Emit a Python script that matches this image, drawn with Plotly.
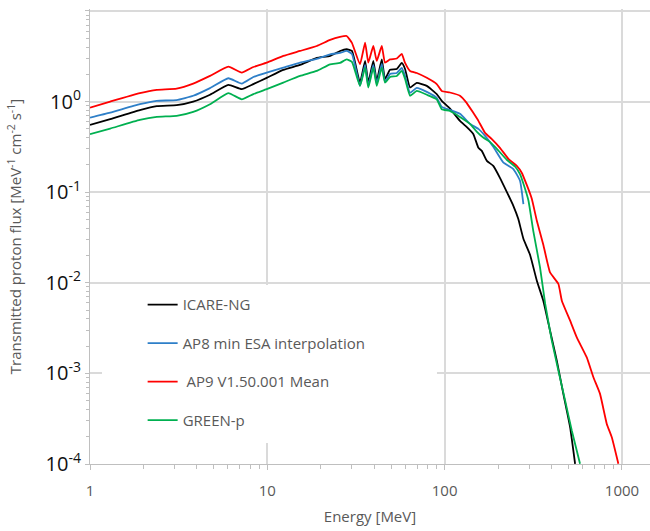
import plotly.graph_objects as go

# Shared energy grid (MeV) for the 1-107 MeV part of all curves
energy_common = [1.00, 1.30, 1.91, 2.38, 3.08, 3.82, 4.75, 6.03, 7.17, 8.34, 9.92,
                 12.3, 15.3, 19.0, 22.6, 25.7, 28.0, 30.0, 33.3, 35.6, 37.1, 39.6,
                 41.4, 44.2, 46.1, 49.2, 53.7, 57.3, 59.8, 63.8, 69.6, 79.3, 90.2,
                 96.3, 107]

icare_common = [0.553, 0.639, 0.804, 0.890, 0.913, 1.00, 1.19, 1.53, 1.37, 1.56, 1.83,
                2.24, 2.54, 3.03, 3.19, 3.62, 3.78, 3.62, 1.62, 2.81, 1.62, 2.81,
                1.69, 2.93, 1.77, 2.24, 2.29, 2.67, 2.29, 1.43, 1.61, 1.49, 1.21,
                1.02, 0.841]
ap8_common = [0.666, 0.756, 0.936, 1.02, 1.04, 1.16, 1.41, 1.81, 1.58, 1.87, 2.09,
              2.37, 2.69, 2.96, 3.33, 3.44, 3.62, 3.36, 1.49, 2.54, 1.49, 2.54,
              1.57, 2.60, 1.65, 2.02, 2.07, 2.35, 1.92, 1.25, 1.42, 1.28, 1.10,
              0.874, 0.810]
ap9_common = [0.859, 1.00, 1.24, 1.35, 1.39, 1.58, 1.92, 2.43, 2.09, 2.41, 2.69,
              3.19, 3.62, 4.11, 4.79, 5.17, 5.30, 4.44, 2.58, 4.47, 2.69, 4.11,
              2.81, 4.11, 2.69, 2.92, 2.99, 3.36, 2.67, 2.18, 2.07, 1.83, 1.56,
              1.31, 1.26]
green_common = [0.437, 0.504, 0.628, 0.678, 0.696, 0.770, 0.936, 1.24, 1.06, 1.21, 1.37,
                1.62, 1.92, 2.18, 2.58, 2.67, 2.93, 2.74, 1.49, 2.37, 1.43, 2.37,
                1.49, 2.37, 1.62, 1.87, 1.92, 2.18, 1.78, 1.16, 1.31, 1.19, 1.06,
                0.824, 0.790]

# High-energy tails
icare_tail_e = [122, 133, 145, 155, 162, 173, 188, 205, 224, 244, 260, 278, 303, 331,
                360, 393, 429, 467, 510, 544]
icare_tail_f = [0.613, 0.526, 0.440, 0.309, 0.286, 0.222, 0.195, 0.144, 0.101, 0.0708,
                0.0509, 0.0306, 0.0204, 0.01055, 0.00635, 0.00296, 0.00138, 0.000594,
                0.000254, 0.0001005]
ap8_tail_e = [122, 139, 155, 169, 188, 214, 244, 266, 278]
ap8_tail_f = [0.732, 0.568, 0.500, 0.418, 0.317, 0.213, 0.180, 0.134, 0.0739]
ap9_tail_e = [122, 133, 145, 155, 169, 184, 205, 229, 255, 272, 290, 310, 331, 360,
              393, 438, 458, 510, 556, 633, 690, 752, 821, 876, 954]
ap9_tail_f = [1.16, 0.968, 0.751, 0.613, 0.452, 0.388, 0.309, 0.233, 0.195, 0.164,
              0.121, 0.0846, 0.0484, 0.0263, 0.0130, 0.0097, 0.00635, 0.00382, 0.0025,
              0.00150, 0.000906, 0.000594, 0.000277, 0.000197, 0.0001005]
green_tail_e = [122, 139, 152, 165, 180, 197, 224, 250, 266, 284, 297, 316, 345, 369,
                402, 438, 478, 521, 580]
green_tail_f = [0.678, 0.568, 0.463, 0.401, 0.359, 0.301, 0.228, 0.191, 0.158, 0.109,
                0.0804, 0.0375, 0.0148, 0.00584, 0.0023, 0.00107, 0.000501, 0.000234,
                0.0001005]

series_names = ["ICARE-NG", "AP8 min ESA interpolation", " AP9 V1.50.001 Mean", "GREEN-p"]
series_colors = ["#000000", "#2E7FC8", "#FF0000", "#00B050"]

y_tick_vals = [1e-4, 1e-3, 1e-2, 1e-1, 1, 10]
y_tick_text = ["10<sup>-4</sup>", "10<sup>-3</sup>", "10<sup>-2</sup>",
               "10<sup>-1</sup>", "10<sup>0</sup>", "10<sup>1</sup>"]

series_data = [
    (energy_common + icare_tail_e, icare_common + icare_tail_f),
    (energy_common + ap8_tail_e, ap8_common + ap8_tail_f),
    (energy_common + ap9_tail_e, ap9_common + ap9_tail_f),
    (energy_common + green_tail_e, green_common + green_tail_f),
]

fig = go.Figure()
for i, ((xs, ys), name, col) in enumerate(zip(series_data, series_names, series_colors)):
    fig.add_trace(go.Scatter(x=xs, y=ys, mode="lines", name=name, legendgroup=str(i),
                             line=dict(color=col, width=1.8, shape="spline", smoothing=0.4)))

minor_x = [d * 10 ** k for k in range(0, 4) for d in range(2, 10)]
minor_y = [d * 10.0 ** k for k in range(-4, 1) for d in range(2, 10)]

grid_col = "#DADADA"
fig.update_layout(
    width=650, height=531,
    margin=dict(l=90, r=0, t=9, b=67),
    paper_bgcolor="white", plot_bgcolor="white",
    font=dict(family="Open Sans", color="#595959"),
    showlegend=True,
    legend=dict(x=0.094, y=0.386, xanchor="left", yanchor="top",
                bgcolor="rgba(0,0,0,0)", font=dict(size=15, color="#595959"),
                tracegroupgap=16, itemwidth=30),
    shapes=[dict(type="rect", xref="paper", yref="paper", x0=0.0214, x1=0.6196,
                 y0=0.0462, y1=0.3934, fillcolor="white", line=dict(width=0),
                 layer="above")],
)
fig.update_xaxes(
    type="log", range=[0, 3.158],
    tickmode="linear", tick0=0, dtick=1,
    tickfont=dict(size=15, color="#595959"),
    showgrid=True, gridcolor=grid_col, gridwidth=2,
    showline=True, linecolor="#BFBFBF", linewidth=1,
    ticks="outside", ticklen=5, tickcolor="#BFBFBF", ticklabelstandoff=8,
    minor=dict(tickvals=minor_x, ticks="outside", ticklen=4, tickcolor="#BFBFBF",
               showgrid=False),
    title=dict(text="Energy [MeV]", font=dict(size=15, color="#595959"), standoff=12),
    zeroline=False,
)
fig.update_yaxes(
    type="log", range=[-4, 1.022],
    tickvals=y_tick_vals, ticktext=y_tick_text,
    tickfont=dict(size=20, color="#111111"),
    showgrid=True, gridcolor=grid_col, gridwidth=2,
    showline=True, linecolor="#BFBFBF", linewidth=1,
    ticks="outside", ticklen=4, tickcolor="#BFBFBF",
    minor=dict(tickvals=minor_y, ticks="outside", ticklen=3, tickcolor="#BFBFBF",
               showgrid=False),
    title=dict(text="Transmitted proton flux [MeV<sup>-1</sup> cm<sup>-2</sup> s<sup>-1</sup>]",
               font=dict(size=15, color="#595959"), standoff=20),
    zeroline=False,
)

fig.write_html("out.html")
